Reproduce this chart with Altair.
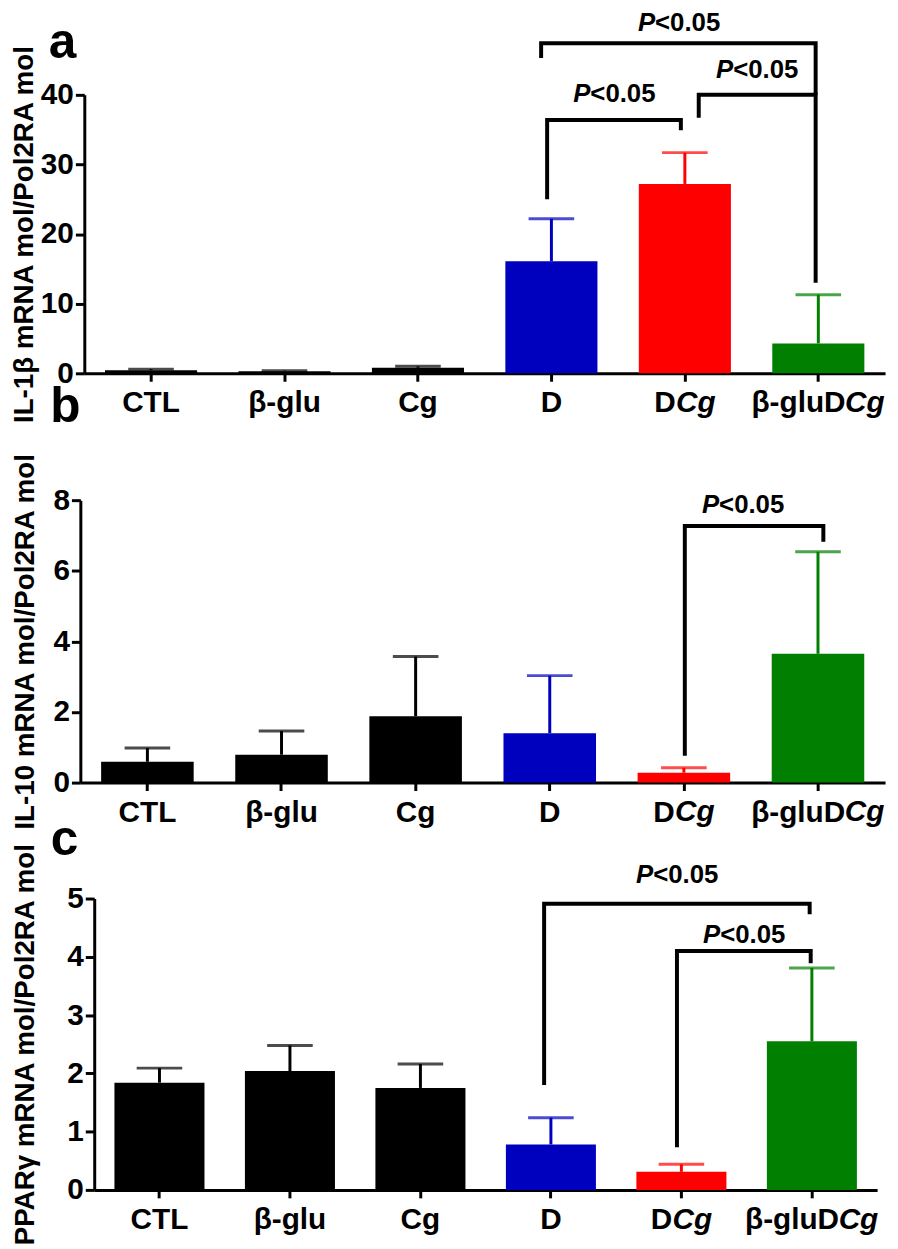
import altair as alt
import pandas as pd

FONT = "Liberation Sans"

categories = ["CTL", "β-glu", "Cg", "D", "DCg", "β-gluDCg"]
bar_colors = ["#000000", "#000000", "#000000", "#0000BF", "#FF0000", "#007F00"]

# Panel a : IL-1beta
a_mean = [0.45, 0.30, 0.80, 16.1, 27.2, 4.3]
a_upper = [0.60, 0.38, 1.00, 22.2, 31.7, 11.3]
a_ticks = [0, 10, 20, 30, 40]
# Panel b : IL-10
b_mean = [0.59, 0.79, 1.88, 1.40, 0.28, 3.65]
b_upper = [0.98, 1.46, 3.57, 3.03, 0.42, 6.54]
b_ticks = [0, 2, 4, 6, 8]
# Panel c : PPARgamma
c_mean = [1.84, 2.04, 1.75, 0.78, 0.31, 2.55]
c_upper = [2.09, 2.48, 2.16, 1.24, 0.44, 3.81]
c_ticks = [0, 1, 2, 3, 4, 5]

# significance brackets (x in category-index units, y in data units)
a_br_left_x = [2.968, 4.104, 2.923]
a_br_right_x = [3.970, 4.980, 4.980]
a_br_top = [36.4, 40.0, 47.4]
a_br_left_end = [25.0, 36.7, 45.3]
a_br_right_end = [34.9, 13.0, 40.0]
a_lab_x = [3.47, 4.54, 3.955]
a_lab_y = [38.9, 42.4, 49.1]

b_br_left_x = [4.007]
b_br_right_x = [5.04]
b_br_top = [7.27]
b_br_left_end = [0.76]
b_br_right_end = [6.82]
b_lab_x = [4.44]
b_lab_y = [7.64]

c_br_left_x = [2.948, 3.966]
c_br_right_x = [4.983, 4.991]
c_br_top = [4.91, 4.10]
c_br_left_end = [1.80, 0.73]
c_br_right_end = [4.73, 3.89]
c_lab_x = [3.966, 4.48]
c_lab_y = [5.27, 4.23]

letters = ["a", "b", "c"]
letter_x = [-0.663, -0.611, -0.728]
letter_y = [45.27, 10.22, 5.75]

XLAB_SIZE = 30
LABEL_EXPR = ("datum.value == 'DCg' ? 'D' : "
              "datum.value == 'β-gluDCg' ? 'β-gluD' : datum.label")
SPLIT_TEST = "datum.value == 'DCg' || datum.value == 'β-gluDCg'"


def make_panel(mean, upper, ymax, yticks, ytitle, brackets, lab_x, lab_y,
               letter, lx, ly, width, height, xrange, yrange, yoffset, tpad):
    bars_df = pd.DataFrame({"cat": categories, "mean": mean,
                            "upper": upper, "color": bar_colors})
    bars_df["zero"] = 0.0
    yscale_kw = dict(domain=[0, ymax], nice=False, zero=True)
    if yrange is not None:
        yscale_kw["range"] = yrange
    yscale = alt.Scale(**yscale_kw)
    yaxis = alt.Axis(values=yticks, title=ytitle, offset=yoffset,
                     titlePadding=tpad, tickSize=9, labelPadding=2,
                     labelFontSize=30, titleFontSize=28)
    xscale = alt.Scale(domain=categories, paddingInner=0.31,
                       paddingOuter=0.155, range=xrange)
    xaxis = alt.Axis(
        title=None, labelAngle=0, tickSize=8, labelPadding=7,
        labelFontSize=XLAB_SIZE, labelExpr=LABEL_EXPR,
        labelOffset={"condition": {"test": SPLIT_TEST, "value": -20}, "value": 0},
    )
    xb = alt.X("cat:N", sort=categories, scale=xscale, axis=xaxis)
    col = alt.Color("color:N", scale=None)

    base = alt.Chart(bars_df)
    bars = base.mark_bar().encode(
        x=xb, y=alt.Y("mean:Q", scale=yscale, axis=yaxis), color=col)
    err = base.mark_rule(strokeWidth=3).encode(
        x=xb, y=alt.Y("mean:Q", scale=yscale, axis=yaxis),
        y2="upper:Q", color=col)
    cap = base.mark_tick(orient="horizontal", size=46, thickness=3).encode(
        x=xb, y=alt.Y("upper:Q", scale=yscale, axis=yaxis), color=col)

    # italic "Cg" parts of the two combined labels
    ital = []
    for cat, dx in [("DCg", -9), ("β-gluDCg", 27)]:
        ital.append(
            base.transform_filter(alt.datum.cat == cat).mark_text(
                text="Cg", font=FONT, fontSize=XLAB_SIZE, fontWeight="bold",
                fontStyle="italic", align="left", baseline="top",
                dx=dx, dy=15, color="black"
            ).encode(x=xb, y=alt.Y("zero:Q", scale=yscale, axis=yaxis))
        )

    rows = []
    for i, (xl, xr, top, le, re) in enumerate(zip(*brackets)):
        for k, (xx, yy) in enumerate([(xl, le), (xl, top), (xr, top), (xr, re)]):
            rows.append({"bid": i, "k": k, "x": xx, "y": yy})
    br_df = pd.DataFrame(rows)
    qx = alt.X("x:Q", scale=alt.Scale(domain=[-0.5, 5.5], range=xrange,
                                      nice=False, zero=False), axis=None)
    qy = alt.Y("y:Q", scale=yscale, axis=yaxis)
    lines = alt.Chart(br_df).mark_line(
        color="black", strokeWidth=4, strokeJoin="miter", strokeCap="butt"
    ).encode(x=qx, y=qy, detail="bid:N", order="k:Q")

    lab_df = pd.DataFrame({"x": lab_x, "y": lab_y})
    ptxt = alt.Chart(lab_df).mark_text(
        text="P", font=FONT, fontSize=26, fontWeight="bold", fontStyle="italic",
        align="right", baseline="alphabetic", dx=-24, color="black"
    ).encode(x=qx, y=qy)
    rest = alt.Chart(lab_df).mark_text(
        text="<0.05", font=FONT, fontSize=26, fontWeight="bold",
        align="left", baseline="alphabetic", dx=-24, color="black"
    ).encode(x=qx, y=qy)

    let_df = pd.DataFrame({"x": [lx], "y": [ly], "t": [letter]})
    let = alt.Chart(let_df).mark_text(
        font=FONT, fontSize=50, fontWeight="bold", align="center",
        baseline="alphabetic", color="black"
    ).encode(x=qx, y=qy, text="t:N")

    inner = alt.layer(bars, err, cap, *ital)
    overlay = alt.layer(lines, ptxt, rest, let)
    return alt.layer(inner, overlay).resolve_scale(x="independent").properties(
        width=width, height=height)


pa = make_panel(a_mean, a_upper, 40, a_ticks, "IL-1β mRNA mol/Pol2RA mol",
                (a_br_left_x, a_br_right_x, a_br_top, a_br_left_end, a_br_right_end),
                a_lab_x, a_lab_y, letters[0], letter_x[0], letter_y[0],
                808, 281, [0, 808], None, 0, 2)
pb = make_panel(b_mean, b_upper, 8, b_ticks, "IL-10 mRNA mol/Pol2RA mol",
                (b_br_left_x, b_br_right_x, b_br_top, b_br_left_end, b_br_right_end),
                b_lab_x, b_lab_y, letters[1], letter_x[1], letter_y[1],
                808, 296, [-4, 808], [296, 11], 4, 14)
pc = make_panel(c_mean, c_upper, 5, c_ticks, "PPARγ mRNA mol/Pol2RA mol",
                (c_br_left_x, c_br_right_x, c_br_top, c_br_left_end, c_br_right_end),
                c_lab_x, c_lab_y, letters[2], letter_x[2], letter_y[2],
                800, 294, [10, 800], None, -10, 28)

chart = alt.vconcat(pa, pb, pc, spacing=117, bounds="flush").properties(
    autosize=alt.AutoSizeParams(type="none"),
    padding={"left": 77, "top": 82, "right": 813, "bottom": 1159},
).configure_view(stroke=None).configure_axis(
    grid=False, domainColor="black", domainWidth=3, tickColor="black",
    tickWidth=3, labelColor="black", titleColor="black", labelFont=FONT,
    titleFont=FONT, labelFontWeight="bold", titleFontWeight="bold",
).configure_text(font=FONT)

chart.save("out.html", embed_options={"renderer": "svg", "actions": False})
